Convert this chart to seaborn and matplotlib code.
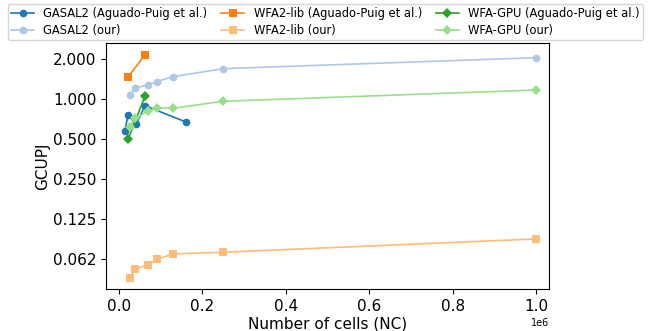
import numpy as np
import pandas as pd
import matplotlib
matplotlib.use("Agg")
import matplotlib.pyplot as plt
import seaborn as sns
from matplotlib.ticker import FixedLocator, FixedFormatter

# Data (x = number of cells, y = GCUPJ)
x_aguado_gasal = [14600, 22500, 42000, 63000, 161000]
y_aguado_gasal = [0.574, 0.758, 0.648, 0.895, 0.675]

x_aguado_wfa2 = [22500, 62500]
y_aguado_wfa2 = [1.47, 2.15]

x_aguado_wfagpu = [23000, 63000]
y_aguado_wfagpu = [0.503, 1.053]

x_our = [26000, 39500, 69500, 91000, 130000, 250000, 1000000]
y_our_gasal = [1.077, 1.216, 1.281, 1.357, 1.479, 1.70, 2.056]
y_our_wfa2 = [0.0454, 0.0526, 0.057, 0.0625, 0.0686, 0.0707, 0.089]
y_our_wfagpu = [0.622, 0.719, 0.812, 0.865, 0.856, 0.966, 1.175]

y_ticks = [0.0625, 0.125, 0.25, 0.5, 1.0, 2.0]
y_tick_labels = ["0.062", "0.125", "0.250", "0.500", "1.000", "2.000"]

series = [
    ("GASAL2 (Aguado-Puig et al.)", x_aguado_gasal, y_aguado_gasal, "#1f77b4", "o"),
    ("GASAL2 (our)", x_our, y_our_gasal, "#aec7e8", "o"),
    ("WFA2-lib (Aguado-Puig et al.)", x_aguado_wfa2, y_aguado_wfa2, "#ff7f0e", "s"),
    ("WFA2-lib (our)", x_our, y_our_wfa2, "#ffbb78", "s"),
    ("WFA-GPU (Aguado-Puig et al.)", x_aguado_wfagpu, y_aguado_wfagpu, "#2ca02c", "D"),
    ("WFA-GPU (our)", x_our, y_our_wfagpu, "#98df8a", "D"),
]

fig = plt.figure(figsize=(6.51, 3.31), dpi=100)
ax = fig.add_axes([0.163, 0.127, 0.680, 0.743])

for label, xs, ys, color, marker in series:
    df = pd.DataFrame({"x": xs, "y": ys})
    ms = 5.5 if marker != "D" else 5.0
    sns.lineplot(data=df, x="x", y="y", ax=ax, color=color, marker=marker,
                 markersize=ms, markeredgewidth=0, linewidth=1.2,
                 label=label, sort=False, legend=False)

ax.set_yscale("log", base=2)
ax.yaxis.set_major_locator(FixedLocator(y_ticks))
ax.yaxis.set_major_formatter(FixedFormatter(y_tick_labels))
ax.yaxis.set_minor_locator(FixedLocator([]))
ax.set_ylim(0.0374, 2.65)
ax.set_xlim(-30000, 1.0296e6)

ax.tick_params(labelsize=11)
ax.xaxis.get_offset_text().set_fontsize(7)
ax.set_xlabel("Number of cells (NC)", fontsize=11, labelpad=2)
ax.set_ylabel("GCUPJ", fontsize=11, labelpad=2)

handles, labels = ax.get_legend_handles_labels()
fig.legend(handles, labels, loc="upper center", bbox_to_anchor=(0.5, 1.006),
           ncol=3, fontsize=8.3, frameon=True, handlelength=2.0,
           columnspacing=1.2, borderpad=0.3, labelspacing=0.3)

fig.savefig("out.png", dpi=100)
